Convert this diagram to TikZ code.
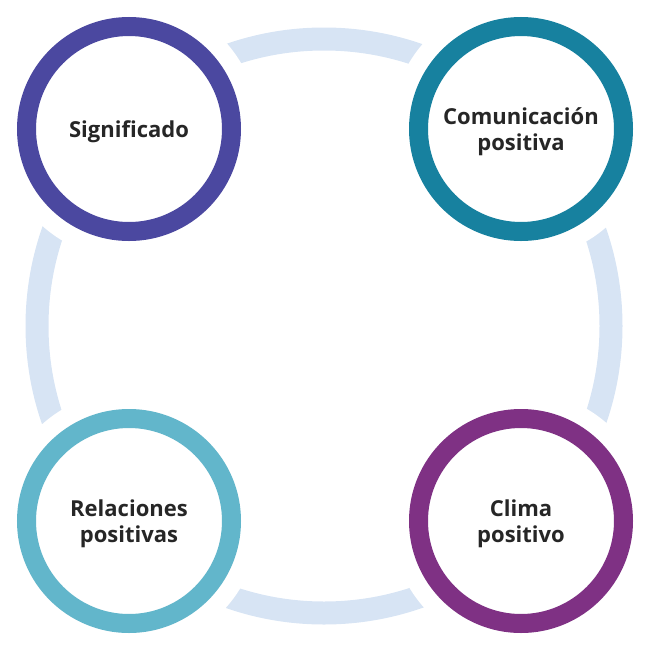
\documentclass[tikz,border=0pt]{standalone}
\usepackage{fontspec}
\setmainfont{Open Sans}
\definecolor{ringblue}{HTML}{D7E4F4}
\definecolor{sigpurple}{HTML}{4B48A0}
\definecolor{comteal}{HTML}{17819F}
\definecolor{relblue}{HTML}{62B6CB}
\definecolor{climapurple}{HTML}{7F3184}
\definecolor{textgray}{HTML}{262626}
\tikzset{
  ringnode/.style={circle, draw=#1, line width=19pt, fill=white, minimum size=205pt,
    inner sep=0pt},
  ringtext/.style={align=center, text=textgray, yshift=-2.5pt,
    font=\bfseries\fontsize{22}{26}\selectfont},
}
\begin{document}
\begin{tikzpicture}[x=1pt,y=-1pt]
        \useasboundingbox (0,0) rectangle (651,651);

        % Background ring
        \draw[line width=23pt,ringblue] (324,326) circle[radius=287];

        % Gaps around the circles
        \foreach \cx/\cy in {129/129,521/129,129/521,521/521}
          \fill[white] (\cx,\cy) circle[radius=130];

        % Circles
        \node[ringnode=sigpurple] (sig) at (129,129) {};
        \node[ringnode=comteal] (com) at (521,129) {};
        \node[ringnode=relblue] (rel) at (129,521) {};
        \node[ringnode=climapurple] (clima) at (521,521) {};

        % Labels
        \node[ringtext] (sigtext) at (sig) {Significado};
        \node[ringtext] (comtext) at (com) {Comunicación\\positiva};
        \node[ringtext] (reltext) at (rel) {Relaciones\\positivas};
        \node[ringtext] (climatext) at (clima) {Clima\\positivo};
\end{tikzpicture}
\end{document}
